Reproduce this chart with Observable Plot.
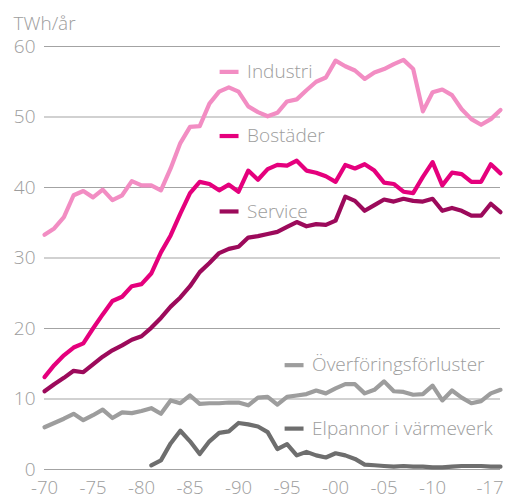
<!DOCTYPE html>
<html>
<head>
<meta charset="utf-8">
<script src="https://cdn.jsdelivr.net/npm/d3@7"></script>
<script src="https://cdn.jsdelivr.net/npm/@observablehq/plot@0.6"></script>
<style>
  html, body { margin: 0; padding: 0; background: #fff; }
  #chart { width: 508px; height: 500px; }
</style>
</head>
<body>
<div id="chart"></div>
<script>
const years = d3.range(1970, 2018);

const industri = [33.3,34.2,35.8,38.9,39.5,38.6,39.7,38.2,38.9,40.9,40.3,40.3,39.6,42.7,46.3,48.6,48.7,51.9,53.6,54.2,53.6,51.5,50.7,50.1,50.6,52.2,52.5,53.8,55.0,55.6,58.0,57.2,56.6,55.4,56.3,56.8,57.5,58.1,56.8,50.8,53.5,53.9,53.1,51.1,49.7,48.9,49.7,51.0];
const bostader = [13.1,14.8,16.2,17.3,17.9,20.0,22.0,23.9,24.5,26.0,26.3,27.8,30.8,33.2,36.3,39.2,40.8,40.5,39.6,40.4,39.4,42.4,41.1,42.6,43.2,43.1,43.8,42.4,42.1,41.6,40.8,43.2,42.7,43.3,42.4,40.7,40.5,39.4,39.2,41.5,43.6,40.3,42.1,41.9,40.8,40.8,43.3,42.0];
const service = [11.1,12.1,13.0,14.0,13.8,14.9,16.0,16.9,17.6,18.4,18.9,20.1,21.5,23.1,24.4,26.0,28.0,29.3,30.7,31.3,31.6,32.9,33.1,33.4,33.7,34.4,35.1,34.5,34.8,34.7,35.3,38.7,38.1,36.7,37.5,38.3,38.0,38.4,38.1,38.0,38.4,36.7,37.1,36.7,36.0,36.0,37.7,36.5];
const overforing = [6.0,6.6,7.2,7.9,7.0,7.7,8.5,7.3,8.1,8.0,8.3,8.7,7.9,9.8,9.4,10.5,9.3,9.4,9.4,9.5,9.5,9.1,10.2,10.3,9.2,10.3,10.5,10.7,11.2,10.8,11.5,12.1,12.1,10.8,11.3,12.5,11.1,11.0,10.6,10.7,11.9,9.8,11.2,10.2,9.4,9.7,10.8,11.3];
const elpannorYears = d3.range(1981, 2018);
const elpannor = [0.6,1.3,3.7,5.5,4.0,2.2,4.0,5.2,5.4,6.6,6.4,6.1,5.3,2.9,3.6,2.0,2.5,2.0,1.7,2.3,2.0,1.5,0.7,0.6,0.5,0.4,0.5,0.4,0.4,0.3,0.3,0.4,0.5,0.5,0.5,0.4,0.4];

const seriesNames = ["Industri","Bostäder","Service","Överföringsförluster","Elpannor i värmeverk"];
const seriesColors = ["#f28dc3","#e5007d","#9c0a5b","#9d9d9d","#6e6e6e"];
const yTicks = [0,10,20,30,40,50,60];
const xTicks = [1970,1975,1980,1985,1990,1995,2000,2005,2010];
const xTickLast = [2017];
const yUnit = "TWh/år";

// label anchor positions (data space) beside the lines
const legendYear = [1988.1, 1988.1, 1988.1, 1994.8, 1994.8];
const legendValue = [56.4, 47.3, 36.6, 14.8, 5.8];

const rows = [];
const add = (name, ys, vs) => ys.forEach((y, i) => rows.push({series: name, year: y, value: vs[i]}));
add(seriesNames[0], years, industri);
add(seriesNames[1], years, bostader);
add(seriesNames[2], years, service);
add(seriesNames[3], years, overforing);
add(seriesNames[4], elpannorYears, elpannor);

const legend = seriesNames.map((s, i) => ({series: s, x: legendYear[i], y: legendValue[i]}));

const fmt = d => "-" + String(d % 100).padStart(2, "0");
const gray = "#9d9d9d";

const chart = Plot.plot({
  width: 508,
  height: 500,
  marginLeft: 44,
  marginRight: 8,
  marginTop: 46,
  marginBottom: 31,
  style: {fontFamily: "'Open Sans', sans-serif", fontSize: "19px", fontWeight: 300, color: gray, background: "#fff", overflow: "visible"},
  x: {type: "linear", domain: [1970, 2017], axis: null},
  y: {type: "linear", domain: [0, 60], axis: null},
  color: {domain: seriesNames, range: seriesColors},
  marks: [
    Plot.ruleY(yTicks, {y: d => d, stroke: "#a3a3a3", strokeWidth: 1.2}),
    Plot.text(yTicks, {frameAnchor: "left", y: d => d, text: d => String(d), textAnchor: "end", dx: -9, fill: gray, fontSize: 19, fontWeight: 300}),
    Plot.text(xTicks, {x: d => d, text: fmt, frameAnchor: "bottom", lineAnchor: "middle", dy: 19, fill: gray, fontSize: 18.5, fontWeight: 300}),
    Plot.text(xTickLast, {x: d => d, text: fmt, frameAnchor: "bottom", lineAnchor: "middle", dy: 19, dx: 3, textAnchor: "end", fill: gray, fontSize: 18.5, fontWeight: 300}),
    Plot.text([yUnit], {frameAnchor: "top-left", lineAnchor: "middle", dx: -31, dy: -23, textAnchor: "start", fill: gray, fontSize: 19, fontWeight: 300}),
    Plot.line(rows, {x: "year", y: "value", z: "series", stroke: "series", strokeWidth: 4.2, strokeLinejoin: "round", strokeLinecap: "round"}),
    Plot.ruleY(legend, {x1: "x", x2: d => d.x + 1.95, y: "y", stroke: "series", strokeWidth: 4.2}),
    Plot.text(legend, {x: "x", y: "y", text: "series", textAnchor: "start", dx: 27, fill: gray, fontSize: 19, fontWeight: 300})
  ]
});

document.getElementById("chart").appendChild(chart);
</script>
</body>
</html>
